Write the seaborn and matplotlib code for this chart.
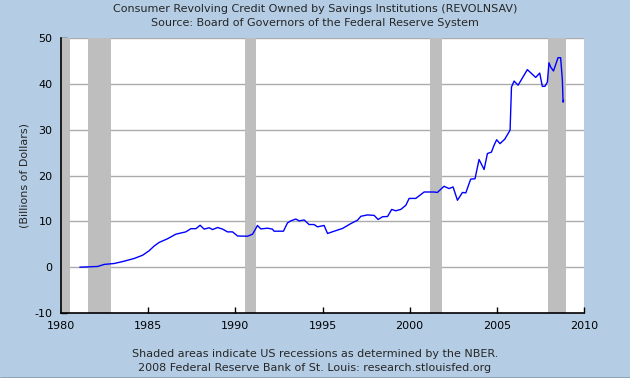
"""Consumer revolving credit owned by savings institutions, FRED style chart."""

import matplotlib

matplotlib.use("Agg")
import matplotlib.pyplot as plt
import pandas as pd
import seaborn as sns
from matplotlib.lines import Line2D

# values (decimal years, billions of dollars)
years = [
    1981.08, 1982.10, 1982.48, 1983.05, 1983.62, 1984.20, 1984.68, 1985.06,
    1985.34, 1985.63, 1986.11, 1986.59, 1987.16, 1987.45, 1987.74, 1987.98,
    1988.21, 1988.50, 1988.69, 1988.98, 1989.27, 1989.55, 1989.84, 1990.13,
    1990.70, 1990.99, 1991.27, 1991.46, 1991.85, 1992.13, 1992.22, 1992.76,
    1992.99, 1993.18, 1993.47, 1993.66, 1993.95, 1994.23, 1994.52, 1994.71,
    1995.09, 1995.29, 1995.67, 1996.15, 1996.62, 1997.01, 1997.20, 1997.58,
    1997.96, 1998.19, 1998.44, 1998.73, 1998.97, 1999.20, 1999.49, 1999.78,
    1999.97, 2000.35, 2000.83, 2001.40, 2001.59, 2001.97, 2002.26, 2002.49,
    2002.74, 2003.03, 2003.22, 2003.41, 2003.50, 2003.75, 2003.98, 2004.27,
    2004.46, 2004.69, 2004.84, 2004.99, 2005.18, 2005.45, 2005.70, 2005.76,
    2005.84, 2005.99, 2006.22, 2006.75, 2007.23, 2007.46, 2007.61, 2007.76,
    2007.90, 2007.99, 2008.09, 2008.25, 2008.51, 2008.66, 2008.76, 2008.80,
    2008.83,
]
values = [
    0.0, 0.15, 0.6, 0.8, 1.3, 1.9, 2.6, 3.6,
    4.6, 5.4, 6.2, 7.2, 7.7, 8.4, 8.4, 9.15,
    8.3, 8.6, 8.2, 8.65, 8.3, 7.7, 7.7, 6.8,
    6.75, 7.2, 9.1, 8.35, 8.5, 8.3, 7.85, 7.85,
    9.65, 10.1, 10.5, 10.1, 10.3, 9.3, 9.3, 8.8,
    9.1, 7.35, 7.85, 8.45, 9.5, 10.25, 11.1, 11.4,
    11.3, 10.4, 11.0, 11.05, 12.6, 12.3, 12.6, 13.5,
    15.0, 15.0, 16.4, 16.4, 16.3, 17.65, 17.15, 17.5,
    14.6, 16.3, 16.2, 18.25, 19.2, 19.3, 23.5, 21.3,
    24.8, 25.1, 26.6, 27.8, 26.95, 27.9, 29.5, 29.9,
    39.3, 40.6, 39.7, 43.1, 41.4, 42.35, 39.45, 39.45,
    40.4, 44.6, 43.65, 42.8, 45.7, 45.7, 40.75, 36.0,
    36.4,
]

# NBER recessions
recession_starts = [1980.0, 1981.54, 1990.54, 2001.17, 2007.92]
recession_ends = [1980.54, 1982.88, 1991.21, 2001.88, 2008.97]

x_ticks = [1980, 1985, 1990, 1995, 2000, 2005, 2010]
y_ticks = [-10, 0, 10, 20, 30, 40, 50]

title_lines = [
    "Consumer Revolving Credit Owned by Savings Institutions (REVOLNSAV)",
    "Source: Board of Governors of the Federal Reserve System",
]
footer_lines = [
    "Shaded areas indicate US recessions as determined by the NBER.",
    "2008 Federal Reserve Bank of St. Louis: research.stlouisfed.org",
]

BG = "#B4CDE5"

sns.set_theme(style="white")
plt.rcParams["font.family"] = ["DejaVu Sans"]
plt.rcParams["axes.unicode_minus"] = False

frame = pd.DataFrame({"year": years, "value": values})

fig = plt.figure(figsize=(6.3, 3.78), dpi=100, facecolor=BG)
ax = fig.add_axes([61 / 630, 65 / 378, 523 / 630, 275 / 378])
ax.set_facecolor("white")

for lo, hi in zip(recession_starts, recession_ends):
    ax.axvspan(lo, hi, color="#BEBEBE", lw=0, zorder=1)

for y in y_ticks[1:]:
    ax.axhline(y, color="#ABABAB", lw=1, zorder=0.5)

sns.lineplot(data=frame, x="year", y="value", color="#0000FF", lw=1, ax=ax, zorder=3)

ax.set_xlim(1980, 2010)
ax.set_ylim(-10, 50)
ax.set_xticks(x_ticks)
ax.set_yticks(y_ticks)
ax.tick_params(direction="in", length=4.5, width=1, colors="black",
               labelsize=8, pad=6, bottom=True, left=True)
ax.set_xlabel("")
ax.set_ylabel("(Billions of Dollars)", fontsize=8, labelpad=4)

for side in ["top", "right"]:
    ax.spines[side].set_visible(False)
for side in ["left", "bottom"]:
    ax.spines[side].set_color("black")
    ax.spines[side].set_linewidth(1.2)

fig.text(0.5, 1 - 9 / 378, title_lines[0], ha="center", va="center", fontsize=8)
fig.text(0.5, 1 - 23 / 378, title_lines[1], ha="center", va="center", fontsize=8)
fig.text(0.5, 1 - 354 / 378, footer_lines[0], ha="center", va="center", fontsize=8)
fig.text(0.5, 1 - 368 / 378, footer_lines[1], ha="center", va="center", fontsize=8)

fig.add_artist(Line2D([0, 1], [0.5 / 378, 0.5 / 378], color="black", lw=1,
                      transform=fig.transFigure))

fig.savefig("out.png", dpi=100, facecolor=BG)
